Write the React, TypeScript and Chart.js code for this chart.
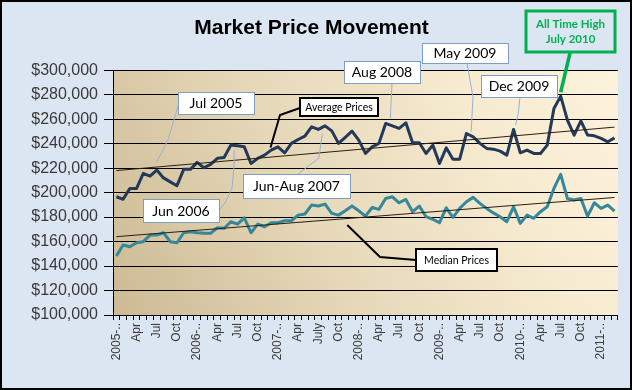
import React, { useEffect, useRef } from 'react';
import { Chart, registerables } from 'chart.js';

Chart.register(...registerables);

// ---------- DATA ----------
const years = [2005, 2006, 2007, 2008, 2009, 2010, 2011];
const monthNames = ['Jan', 'Feb', 'Mar', 'Apr', 'May', 'Jun', 'Jul', 'Aug', 'Sep', 'Oct', 'Nov', 'Dec'];

const averagePrices = [
  196600, 194500, 203400, 203400, 215700, 213500, 218400, 212000, 208800, 205600,
  219000, 219000, 224700, 220300, 223000, 228000, 228700, 238800, 238200, 237400,
  223800, 228000, 230600, 234700, 237400, 232500, 240200, 243400, 246100, 253700,
  251600, 254500, 250400, 240200, 245100, 250200, 242900, 232000, 237400,
  240200, 256500, 254500, 252400, 257000, 240700, 240700, 232000, 238800, 223800,
  236600, 227300, 227300, 248300, 245600, 240200, 236100, 235500, 233900,
  230600, 251600, 232500, 234700, 232000, 232000, 238800, 268700, 278800, 259200,
  247000, 258600, 247000, 246400, 244300, 241500, 244700,
];

const medianPrices = [
  148200, 157200, 155800, 159000, 159900, 165300, 165300, 167200, 159900, 159000,
  167200, 168000, 167200, 166700, 166700, 171300, 170800, 176200, 174300, 179400,
  167200, 174300, 172100, 175400, 175400, 177000, 177000, 181600, 182500, 189800,
  189000, 190600, 183000, 181600, 185200, 189000, 185200, 180800, 187800,
  186300, 195200, 196600, 191700, 194400, 184400, 189000, 180300, 178200, 175400,
  187600, 179800, 187100, 192500, 196100, 191200, 187100, 183400, 180300,
  176200, 188400, 174900, 181600, 179000, 184400, 188400, 203400, 214900, 195200,
  193900, 195200, 180800, 191700, 187100, 189800, 184900,
];

// trendline end values (first and last month)
const averageTrendEnds = [218000, 253500];
const medianTrendEnds = [164000, 196000];

const tickLabels = [
  '2005-..', 'Apr', 'Jul', 'Oct', '2006-..', 'Apr', 'Jul', 'Oct',
  '2007-..', 'Apr', 'July', 'Oct', '2008-..', 'Apr', 'Jul', 'Oct',
  '2009-..', 'Apr', 'Jul', 'Oct', '2010-..', 'Apr', 'Jul', 'Oct', '2011-..',
];
const tickEvery = 3;

const yMin = 100000;
const yMax = 300000;
const yStep = 20000;

const categories: string[] = years
  .flatMap((y) => monthNames.map((m) => `${m} ${y}`))
  .slice(0, averagePrices.length);

function trendSeries(ends: number[], n: number) {
  const arr: (number | null)[] = new Array(n).fill(null);
  arr[0] = ends[0];
  arr[n - 1] = ends[1];
  return arr;
}

// ---------- ANNOTATIONS (layout) ----------
type Callout = {
  lines: string[];
  box: number[];
  path: number[][];
  anchor: number[]; // [category index, value]
  kind: 'date' | 'series' | 'high';
};

const callouts: Callout[] = [
  { lines: ['Jul 2005'], box: [178, 92, 76, 22], path: [[178, 106], [168, 140]], anchor: [6, 225000], kind: 'date' },
  { lines: ['Jun 2006'], box: [143, 199, 76, 23], path: [[219, 210], [225, 203], [232, 188], [234, 167]], anchor: [17.5, 234700], kind: 'date' },
  { lines: ['Jun-Aug 2007'], box: [243, 174, 107, 24], path: [[298, 174], [319, 158], [320, 150]], anchor: [30.6, 248300], kind: 'date' },
  { lines: ['Aug 2008'], box: [344, 61, 76, 22], path: [[392, 83]], anchor: [40.7, 260800], kind: 'date' },
  { lines: ['May 2009'], box: [422, 43, 86, 20], path: [[467, 63], [473, 97]], anchor: [52.7, 249600], kind: 'date' },
  { lines: ['Dec 2009'], box: [481, 75, 76, 22], path: [[520, 97], [518, 115]], anchor: [59.3, 255100], kind: 'date' },
  { lines: ['All Time High', 'July 2010'], box: [526, 11, 89, 41], path: [[570, 53]], anchor: [66, 282000], kind: 'high' },
  { lines: ['Average Prices'], box: [300, 98, 78, 18], path: [[300, 108], [280, 115]], anchor: [22.9, 236900], kind: 'series' },
  { lines: ['Median Prices'], box: [416, 249, 81, 22], path: [[416, 260], [380, 257]], anchor: [34.3, 173500], kind: 'series' },
];

const OUTER_BG = '#DCE6F2';

const backgroundPlugin = {
  id: 'bgPlugin',
  beforeDraw(chart: any) {
    const { ctx, chartArea, width, height } = chart;
    ctx.save();
    ctx.fillStyle = OUTER_BG;
    ctx.fillRect(0, 0, width, height);
    const g = ctx.createLinearGradient(chartArea.left, chartArea.bottom, chartArea.right, chartArea.top);
    g.addColorStop(0, '#CDBA94');
    g.addColorStop(0.4, '#E6D8B9');
    g.addColorStop(0.75, '#F7EBD1');
    g.addColorStop(1, '#FDF2DC');
    ctx.fillStyle = g;
    ctx.fillRect(chartArea.left, chartArea.top, chartArea.right - chartArea.left, chartArea.bottom - chartArea.top);
    ctx.restore();
  },
  afterDraw(chart: any) {
    const { ctx, width, height } = chart;
    ctx.save();
    ctx.strokeStyle = '#000';
    ctx.lineWidth = 2;
    ctx.strokeRect(1, 1, width - 2, height - 2);
    ctx.restore();
  },
};

const calloutPlugin = {
  id: 'callouts',
  afterDatasetsDraw(chart: any) {
    const { ctx } = chart;
    const xs = chart.scales.x;
    const ys = chart.scales.y;
    ctx.save();
    // leaders
    callouts.forEach((c) => {
      const end = [xs.getPixelForValue(c.anchor[0]), ys.getPixelForValue(c.anchor[1])];
      ctx.beginPath();
      ctx.moveTo(c.path[0][0], c.path[0][1]);
      c.path.slice(1).forEach((p) => ctx.lineTo(p[0], p[1]));
      ctx.lineTo(end[0], end[1]);
      if (c.kind === 'date') {
        ctx.strokeStyle = '#95B3D7';
        ctx.lineWidth = 1;
      } else if (c.kind === 'series') {
        ctx.strokeStyle = '#000';
        ctx.lineWidth = 2;
      } else {
        ctx.strokeStyle = '#00B050';
        ctx.lineWidth = 3.5;
      }
      ctx.stroke();
    });
    // boxes
    callouts.forEach((c) => {
      const [x, y, w, h] = c.box;
      if (c.kind === 'date') {
        ctx.fillStyle = '#FFFFFF';
        ctx.fillRect(x, y, w, h);
        ctx.strokeStyle = '#7F9DC3';
        ctx.lineWidth = 1;
        ctx.strokeRect(x + 0.5, y + 0.5, w, h);
        ctx.fillStyle = '#000';
        ctx.font = '14px Lato, "Open Sans", sans-serif';
      } else if (c.kind === 'series') {
        ctx.fillStyle = '#FFFFFF';
        ctx.fillRect(x, y, w, h);
        ctx.strokeStyle = '#000';
        ctx.lineWidth = 2;
        ctx.strokeRect(x, y, w, h);
        ctx.fillStyle = '#000';
        ctx.font = '10.5px Lato, "Open Sans", sans-serif';
      } else {
        ctx.fillStyle = OUTER_BG;
        ctx.fillRect(x, y, w, h);
        ctx.strokeStyle = '#00B050';
        ctx.lineWidth = 3;
        ctx.strokeRect(x, y, w, h);
        ctx.fillStyle = '#00B050';
        ctx.font = 'bold 11.5px Lato, "Open Sans", sans-serif';
      }
      ctx.textAlign = 'center';
      ctx.textBaseline = 'middle';
      const lh = c.kind === 'high' ? 15 : 0;
      const cy = y + h / 2 - ((c.lines.length - 1) * lh) / 2;
      c.lines.forEach((t, i) => ctx.fillText(t, x + w / 2, cy + i * lh + 0.5));
    });
    ctx.restore();
  },
};

export default function App() {
  const ref = useRef<HTMLCanvasElement | null>(null);

  useEffect(() => {
    if (!ref.current) return;
    const n = averagePrices.length;
    const chart = new Chart(ref.current, {
      type: 'line',
      data: {
        labels: categories,
        datasets: [
          {
            label: 'Average trend',
            data: trendSeries(averageTrendEnds, n),
            borderColor: '#2A1E12',
            borderWidth: 1,
            pointRadius: 0,
            spanGaps: true,
          },
          {
            label: 'Median trend',
            data: trendSeries(medianTrendEnds, n),
            borderColor: '#2A1E12',
            borderWidth: 1,
            pointRadius: 0,
            spanGaps: true,
          },
          {
            label: 'Average Prices',
            data: averagePrices,
            borderColor: '#23395A',
            borderWidth: 3,
            pointRadius: 0,
            tension: 0,
            borderJoinStyle: 'round',
          },
          {
            label: 'Median Prices',
            data: medianPrices,
            borderColor: '#35879A',
            borderWidth: 3,
            pointRadius: 0,
            tension: 0,
            borderJoinStyle: 'round',
          },
        ],
      },
      options: {
        responsive: false,
        animation: false,
        layout: { padding: { left: 0, right: 9, top: 0, bottom: 0 } },
        plugins: {
          legend: { display: false },
          tooltip: { enabled: false },
          title: {
            display: true,
            text: 'Market Price Movement',
            color: '#000',
            font: { family: 'Arial, "Liberation Sans", sans-serif', size: 21, weight: 'bold' },
            padding: { top: 16, bottom: 29 },
          },
        },
        scales: {
          x: {
            type: 'category',
            offset: true,
            grid: {
              display: true,
              drawOnChartArea: false,
              drawTicks: true,
              offset: true,
              tickLength: 5,
              color: '#000',
            },
            border: { display: true, color: '#000', width: 1 },
            ticks: {
              autoSkip: false,
              maxRotation: 90,
              minRotation: 90,
              padding: 3,
              color: '#3A3A3A',
              font: { family: 'Arial, "Liberation Sans", sans-serif', size: 12 },
              callback: (_v: any, i: number) => (i % tickEvery === 0 ? tickLabels[i / tickEvery] ?? '' : ''),
            },
            afterFit: (scale: any) => {
              scale.height = 75;
            },
          },
          y: {
            min: yMin,
            max: yMax,
            grid: {
              color: '#000',
              lineWidth: 1,
              tickLength: 9,
              drawTicks: true,
            },
            border: { display: true, color: '#000', width: 1 },
            ticks: {
              stepSize: yStep,
              padding: 6,
              color: '#3A3A3A',
              font: { family: 'Arial, "Liberation Sans", sans-serif', size: 16 },
              callback: (v: any) => '$' + Number(v).toLocaleString('en-US'),
            },
            afterFit: (scale: any) => {
              scale.width = 113;
            },
          },
        },
      },
      plugins: [backgroundPlugin, calloutPlugin],
    });
    return () => chart.destroy();
  }, []);

  return (
    <div style={{ position: 'absolute', left: 0, top: 0, width: 632, height: 390 }}>
      <canvas ref={ref} width={632} height={390} style={{ width: 632, height: 390, display: 'block' }} />
    </div>
  );
}
